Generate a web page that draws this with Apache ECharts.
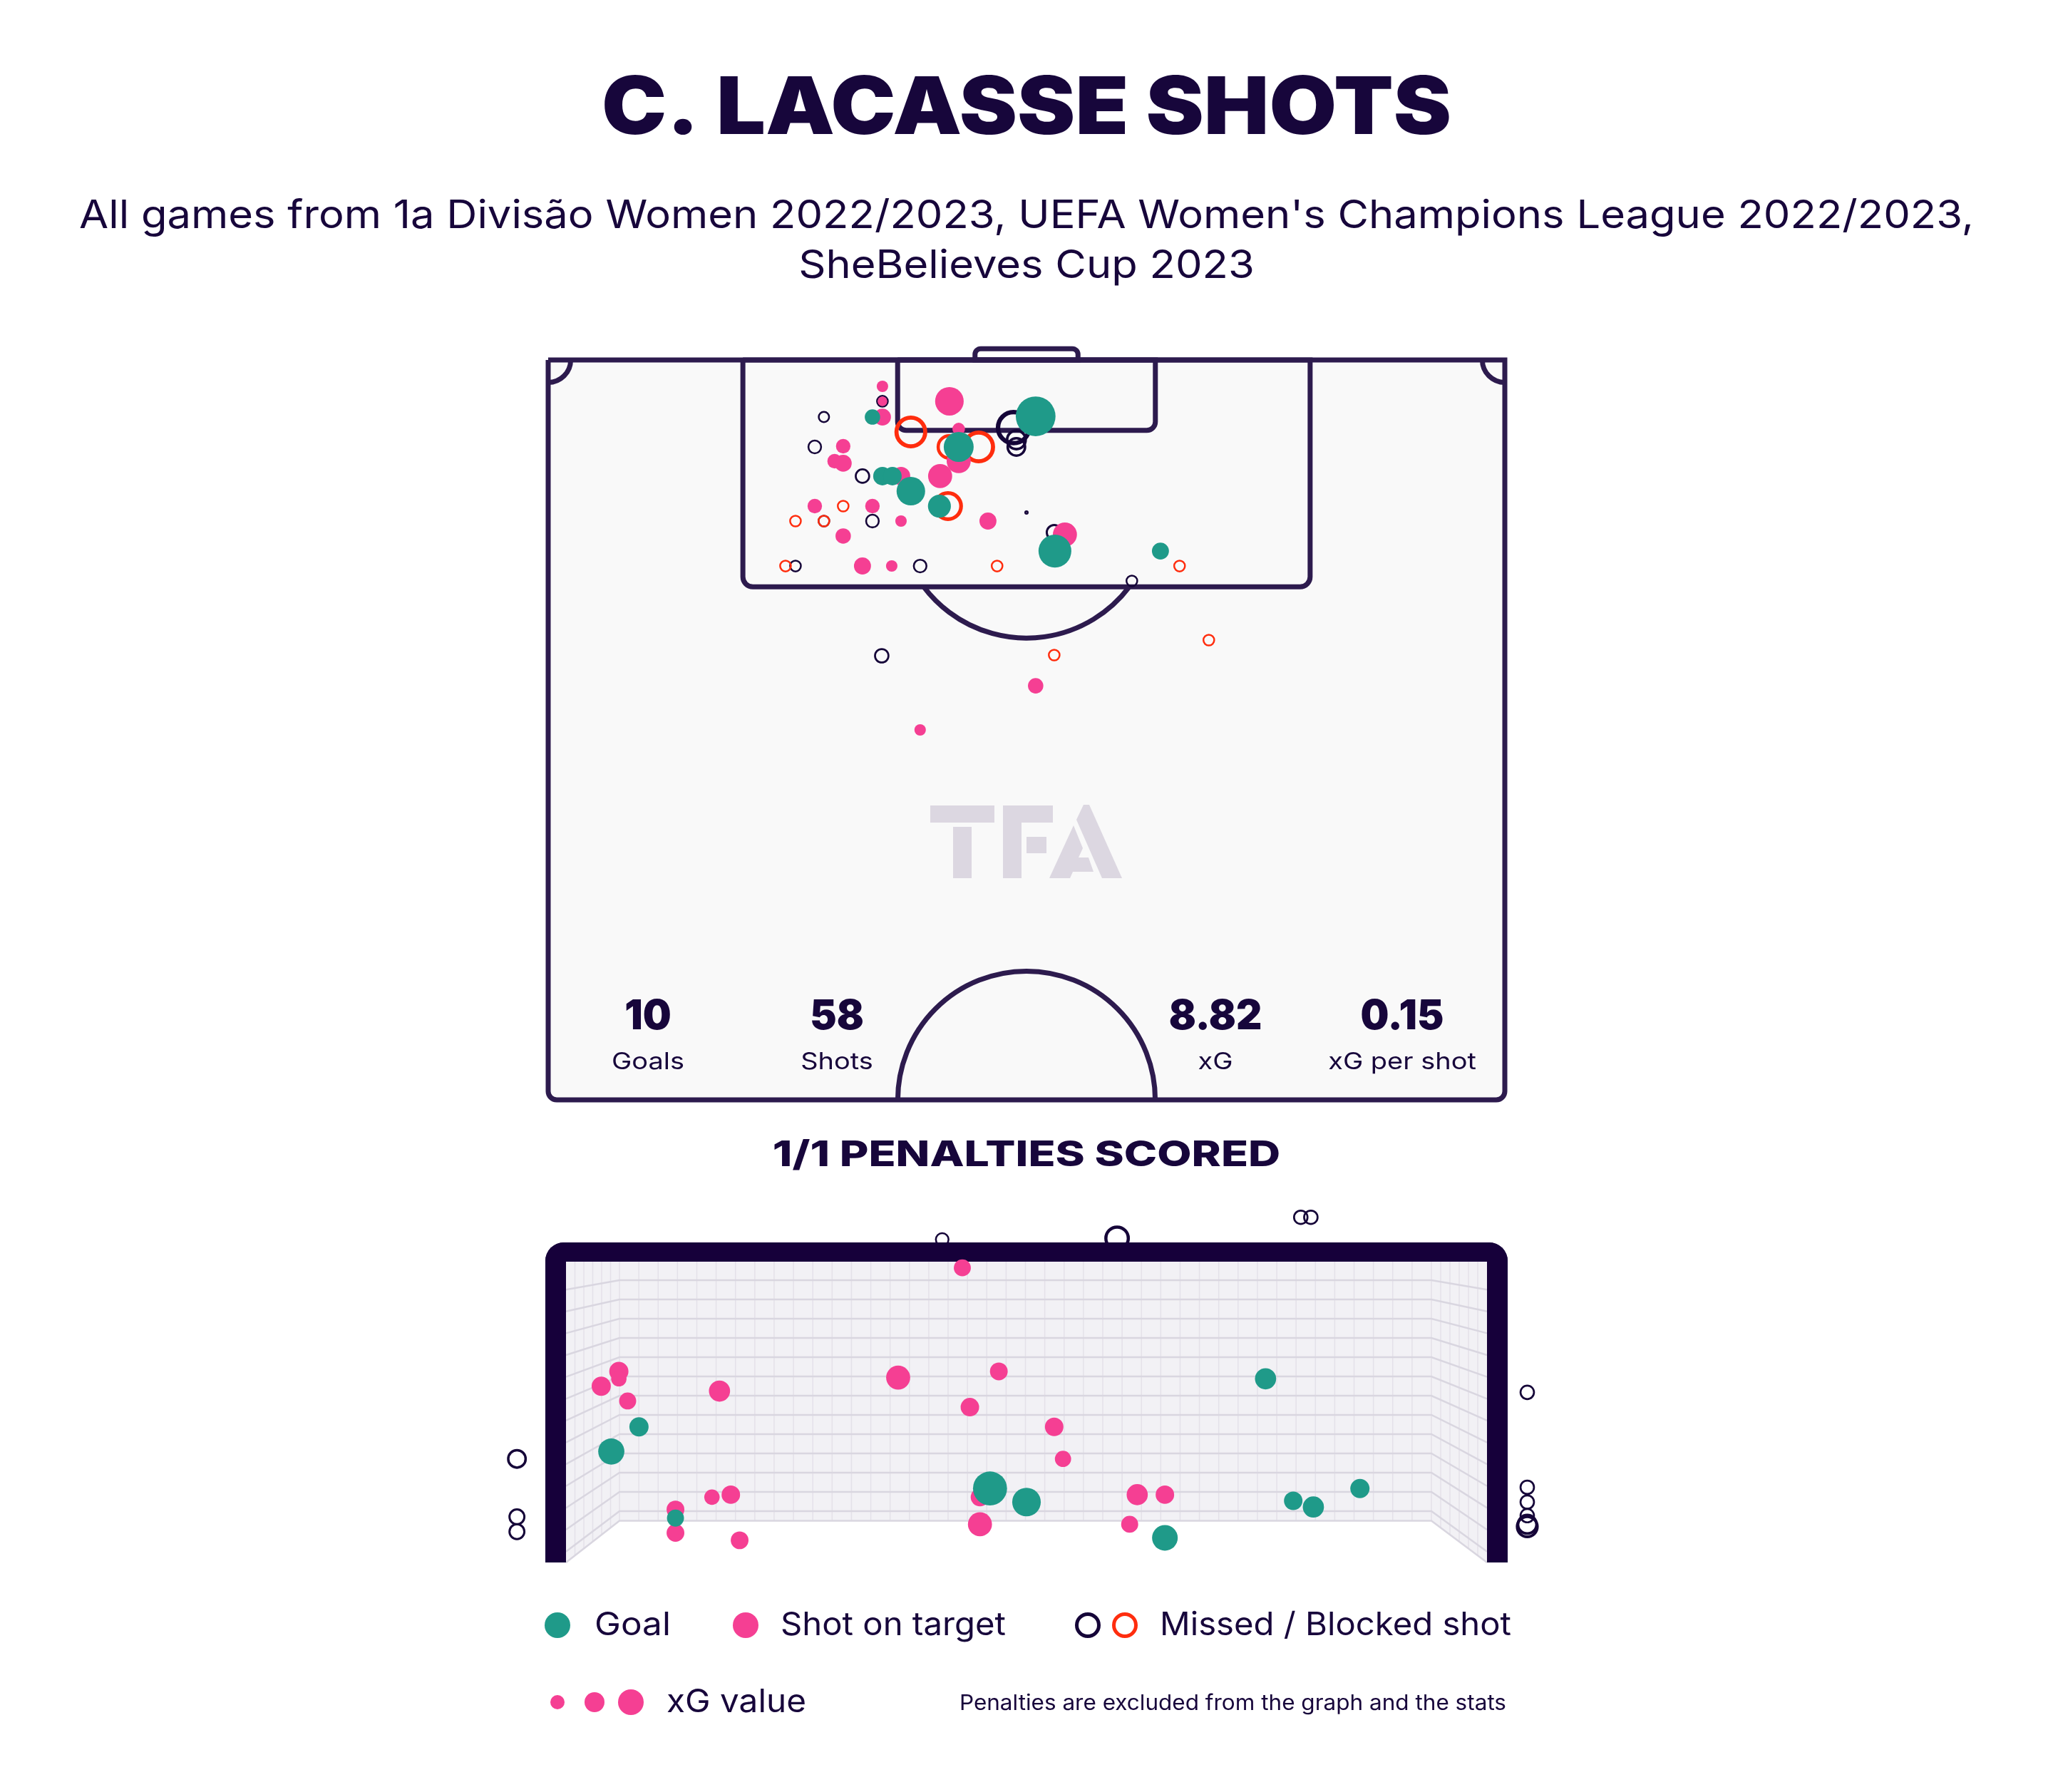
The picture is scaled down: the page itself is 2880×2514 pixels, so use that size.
<!DOCTYPE html>
<html>
<head>
<meta charset="utf-8">
<title>C. Lacasse shots</title>
<script src="https://cdn.jsdelivr.net/npm/echarts@6/dist/echarts.min.js"></script>
<style>
html, body { margin: 0; padding: 0; background: #ffffff; }
#chart { width: 2880px; height: 2514px; }
</style>
</head>
<body>
<div id="chart"></div>
<script>
// shots on the pitch: [metres across pitch, metres from goal line, xG]
var pitchGoals = [
    [23.05, 4.05, 0.09], [23.76, 8.24, 0.13], [24.47, 8.24, 0.13],
    [25.78, 9.31, 0.31], [29.18, 6.17, 0.34], [34.65, 4.00, 0.60],
    [27.81, 10.37, 0.20], [36.02, 13.56, 0.41], [43.52, 13.56, 0.11]
];
var pitchOnTarget = [
    [23.76, 1.87, 0.05], [23.76, 2.93, 0.035], [23.76, 4.05, 0.11],
    [28.52, 2.93, 0.31], [20.97, 6.12, 0.08], [20.36, 7.18, 0.08],
    [20.97, 7.33, 0.11], [25.08, 8.24, 0.13], [27.86, 8.24, 0.22],
    [29.18, 4.90, 0.06], [29.18, 7.18, 0.22], [18.95, 10.37, 0.08],
    [23.05, 10.37, 0.08], [25.08, 11.43, 0.05], [20.97, 12.49, 0.09],
    [22.34, 14.62, 0.11], [24.42, 14.62, 0.05], [31.26, 11.43, 0.11],
    [36.73, 12.39, 0.22], [34.65, 23.12, 0.09], [26.44, 26.25, 0.05]
];
var pitchMissed = [
    [23.76, 2.93, 0.06], [19.60, 4.05, 0.056], [18.95, 6.17, 0.08],
    [22.34, 8.24, 0.09], [33.08, 4.80, 0.48], [33.28, 5.67, 0.17],
    [33.28, 6.17, 0.15], [19.60, 11.43, 0.06], [23.05, 11.43, 0.08],
    [17.58, 14.62, 0.06], [26.44, 14.62, 0.08], [34.00, 10.82, 0.007],
    [35.97, 12.24, 0.11], [41.49, 15.68, 0.06], [23.71, 20.99, 0.09]
];
var pitchBlocked = [
    [25.78, 5.11, 0.41], [28.52, 6.17, 0.25], [30.60, 6.17, 0.41],
    [28.42, 10.37, 0.34], [20.97, 10.37, 0.06], [17.58, 11.43, 0.06],
    [19.60, 11.43, 0.06], [16.87, 14.62, 0.06], [44.88, 14.62, 0.06],
    [31.91, 14.62, 0.06], [46.96, 19.88, 0.06], [35.97, 20.94, 0.06]
];

// shots seen in the goal mouth: [metres from goal centre, height in metres, xG]
var goalGoals = [
    [1.90, 1.49, 0.17], [-3.08, 1.10, 0.14], [-3.30, 0.90, 0.26],
    [-2.79, 0.36, 0.11], [-0.29, 0.60, 0.44], [0.00, 0.49, 0.31],
    [1.10, 0.20, 0.25], [2.12, 0.50, 0.13], [2.28, 0.45, 0.17],
    [2.65, 0.60, 0.14]
];
var goalOnTarget = [
    [-0.51, 2.39, 0.11], [-3.24, 1.55, 0.14], [-3.24, 1.49, 0.09],
    [-3.38, 1.43, 0.14], [-3.17, 1.31, 0.11], [-2.44, 1.39, 0.17],
    [-1.02, 1.50, 0.22], [-0.22, 1.55, 0.12], [-0.45, 1.26, 0.13],
    [0.22, 1.10, 0.13], [0.29, 0.84, 0.10], [-2.50, 0.53, 0.09],
    [-2.35, 0.55, 0.13], [-2.79, 0.43, 0.12], [-2.79, 0.24, 0.12],
    [-2.28, 0.18, 0.12], [-0.37, 0.53, 0.13], [-0.37, 0.31, 0.22],
    [0.88, 0.55, 0.17], [1.10, 0.55, 0.13], [0.82, 0.31, 0.11]
];
var goalMissed = [
    [-0.67, 2.62, 0.08], [0.72, 2.63, 0.25], [2.18, 2.80, 0.09],
    [2.26, 2.80, 0.09], [3.98, 1.38, 0.09], [3.98, 0.61, 0.09],
    [3.98, 0.49, 0.09], [3.98, 0.38, 0.09], [3.98, 0.31, 0.17],
    [3.98, 0.29, 0.20], [-4.05, 0.84, 0.15], [-4.05, 0.37, 0.11],
    [-4.05, 0.25, 0.11]
];

var statValues = ['10', '58', '8.82', '0.15'];
var statLabels = ['Goals', 'Shots', 'xG', 'xG per shot'];
var statX = [909, 1174, 1705, 1967];

var ink = '#17063b';
var lineCol = '#2d1b4e';
var teal = '#1f9a89';
var pink = '#f53f93';
var navy = '#150538';
var red = '#ff2d0e';
var frameCol = '#16003a';
var font = 'Inter, "Noto Sans", sans-serif';

// radius in px from xG
function rad(xg) { return 36 * Math.sqrt(xg); }

function filled(arr) {
    return arr.map(function(d) { return { value: d, symbolSize: 2 * rad(d[2]) }; });
}
function rings(arr) {
    return arr.map(function(d) {
        var r = rad(d[2]);
        var bw = Math.max(2.5, r * 0.25);
        return { value: d, symbolSize: 2 * r - bw, itemStyle: { borderWidth: bw } };
    });
}

// 球场线
function renderPitch(params, api) {
    function pt(x, y) { return api.coord([x, y]); }
    var st = { stroke: lineCol, lineWidth: 7, fill: 'none' };
    function box(x0, y0, x1, y1, r, style) {
        var a = pt(x0, y0), b = pt(x1, y1);
        return { type: 'rect', shape: { x: a[0], y: a[1], width: b[0] - a[0], height: b[1] - a[1], r: r }, style: style || st };
    }
    var m = Math.abs(api.size([1, 0])[0]);
    function arc(cx, cy, r, a0, a1) {
        var c = pt(cx, cy);
        return { type: 'arc', shape: { cx: c[0], cy: c[1], r: r * m, startAngle: a0, endAngle: a1, clockwise: true }, style: st };
    }
    return {
        type: 'group',
        children: [
            box(0, 0, 68, 52.5, [0, 0, 12, 12], { fill: '#f9f9f9', stroke: 'none' }),
            box(30.34, -0.8, 37.66, 0, [8, 8, 0, 0]),
            box(13.84, 0, 54.16, 16.1, [0, 0, 14, 14]),
            box(24.84, 0, 43.16, 5.0, [0, 0, 12, 12]),
            arc(34, 10.6, 9.15, 0.645, Math.PI - 0.645),
            arc(34, 52.5, 9.15, Math.PI, 2 * Math.PI),
            arc(0, 0, 1.6, 0, Math.PI / 2),
            arc(68, 0, 1.6, Math.PI / 2, Math.PI),
            box(0, 0, 68, 52.5, [0, 0, 12, 12])
        ]
    };
}

// 球门和球网
var netEls = [];
var netLine = '#d9d6e0', netThin = '#e4e1e9';
var bx0 = 869, bx1 = 2008, bBot = 2133.6, fx0 = 794, fx1 = 2086, fBot = 2192, netTop = 1770;
var vpY = 1698, sc = 0.8816;
function frontY(y) { return vpY + (y - vpY) / sc; }
netEls.push({ type: 'polygon', z: 3, silent: true,
    shape: { points: [[fx0, netTop], [fx1, netTop], [fx1, fBot], [bx1, bBot], [bx0, bBot], [fx0, fBot]] },
    style: { fill: '#f2f1f5' } });
for (var i = 0; i <= 42; i++) {
    var vx = bx0 + i * (bx1 - bx0) / 42;
    netEls.push({ type: 'line', z: 3, silent: true, shape: { x1: vx, y1: netTop, x2: vx, y2: bBot },
        style: { stroke: netThin, lineWidth: 1.5 } });
}
for (var j = 1; j < 6; j++) {
    var lx = fx0 + j * (bx0 - fx0) / 6;
    var rx = fx1 - j * (fx1 - bx1) / 6;
    var fy = fBot - j * (fBot - bBot) / 6;
    netEls.push({ type: 'line', z: 3, silent: true, shape: { x1: lx, y1: netTop, x2: lx, y2: fy }, style: { stroke: netThin, lineWidth: 1.5 } });
    netEls.push({ type: 'line', z: 3, silent: true, shape: { x1: rx, y1: netTop, x2: rx, y2: fy }, style: { stroke: netThin, lineWidth: 1.5 } });
}
var hys = [];
for (var k = 0; k <= 12; k++) hys.push(1796 + k * 27);
hys.push(bBot);
hys.forEach(function(y) {
    var y2 = frontY(y);
    netEls.push({ type: 'polyline', z: 3, silent: true,
        shape: { points: [[fx0, y2], [bx0, y], [bx1, y], [fx1, y2]] },
        style: { stroke: netLine, lineWidth: 2.5, fill: 'none' } });
});
netEls.push({ type: 'rect', z: 6, silent: true, shape: { x: 765, y: 1743, width: 1350, height: 27, r: [26, 26, 0, 0] }, style: { fill: frameCol } });
netEls.push({ type: 'rect', z: 6, silent: true, shape: { x: 765, y: 1743, width: 29, height: 449, r: [26, 0, 0, 0] }, style: { fill: frameCol } });
netEls.push({ type: 'rect', z: 6, silent: true, shape: { x: 2086, y: 1743, width: 29, height: 449, r: [0, 26, 0, 0] }, style: { fill: frameCol } });

// TFA 水印
var wm = '#dcd7e1';
var markEls = [
    { type: 'rect', shape: { x: 1305, y: 1130, width: 90, height: 24 } },
    { type: 'rect', shape: { x: 1337, y: 1160, width: 26, height: 72 } },
    { type: 'rect', shape: { x: 1407, y: 1130, width: 26, height: 102 } },
    { type: 'rect', shape: { x: 1407, y: 1130, width: 70, height: 24 } },
    { type: 'rect', shape: { x: 1440, y: 1174, width: 28, height: 23 } },
    { type: 'polygon', shape: { points: [[1510, 1150], [1520, 1129], [1528, 1129], [1574, 1232], [1546, 1232]] } },
    { type: 'polygon', shape: { points: [[1506, 1158], [1519, 1190], [1513, 1203], [1527, 1203], [1534, 1223], [1505, 1223], [1501, 1232], [1472, 1232]] } }
];
markEls.forEach(function(e) { e.z = 1.5; e.silent = true; e.style = { fill: wm }; });

function txt(x, y, s, size, weight, align, sx) {
    return { type: 'text', z: 10, silent: true, x: x, y: y, scaleX: sx || 1,
        style: { text: s, fill: ink, font: (weight || 400) + ' ' + size + 'px ' + font,
            textAlign: align || 'center', textVerticalAlign: 'middle' } };
}

var textEls = [
    txt(1440, 154, 'C. LACASSE SHOTS', 112, 900, 'center', 1.09),
    txt(1440, 303, "All games from 1a Divisão Women 2022/2023, UEFA Women's Champions League 2022/2023,", 55, 400, 'center', 1.085),
    txt(1440, 373, 'SheBelieves Cup 2023', 55, 400, 'center', 1.085),
    txt(1440, 1621, '1/1 PENALTIES SCORED', 50, 800, 'center', 1.25)
];
for (var s = 0; s < statValues.length; s++) {
    textEls.push(txt(statX[s], 1427, statValues[s], 58, 900, 'center', 0.97));
    textEls.push(txt(statX[s], 1490, statLabels[s], 33, 400, 'center', 1.15));
}

// 图例
function dot(cx, cy, r, c) { return { type: 'circle', z: 10, silent: true, shape: { cx: cx, cy: cy, r: r }, style: { fill: c } }; }
function ring(cx, cy, r, c) { return { type: 'circle', z: 10, silent: true, shape: { cx: cx, cy: cy, r: r - 2.5 }, style: { fill: 'none', stroke: c, lineWidth: 5 } }; }
var legendEls = [
    dot(782, 2280, 18, teal), txt(834, 2280, 'Goal', 45, 400, 'left', 1.1),
    dot(1046, 2280, 18, pink), txt(1095, 2280, 'Shot on target', 45, 400, 'left', 1.05),
    ring(1526, 2280, 18, navy), ring(1578, 2280, 18, red), txt(1627, 2280, 'Missed / Blocked shot', 45, 400, 'left', 1.05),
    dot(782, 2388, 10, pink), dot(834, 2388, 14, pink), dot(885, 2388, 18, pink),
    txt(935, 2388, 'xG value', 45, 400, 'left', 1.06),
    txt(2113, 2390, 'Penalties are excluded from the graph and the stats', 30, 400, 'right', 1.05)
];

var myChart = echarts.init(document.getElementById('chart'));
var option = {
    backgroundColor: '#ffffff',
    animation: false,
    grid: [
        { left: 769, top: 505, width: 1342, height: 1038 },
        { left: 794, top: 1770, width: 1292, height: 422 }
    ],
    xAxis: [
        { gridIndex: 0, type: 'value', min: 0, max: 68, show: false },
        { gridIndex: 1, type: 'value', min: -3.66, max: 3.66, show: false }
    ],
    yAxis: [
        { gridIndex: 0, type: 'value', min: 0, max: 52.5, inverse: true, show: false },
        { gridIndex: 1, type: 'value', min: 0, max: 2.44, show: false }
    ],
    graphic: { elements: netEls.concat(markEls, textEls, legendEls) },
    series: [
        { type: 'custom', xAxisIndex: 0, yAxisIndex: 0, z: 1, silent: true, clip: false,
          data: [[0, 0]], renderItem: renderPitch },
        { name: 'Missed', type: 'scatter', xAxisIndex: 0, yAxisIndex: 0, z: 3, clip: false, symbol: 'circle',
          data: rings(pitchMissed), itemStyle: { color: 'rgba(0,0,0,0)', borderColor: navy, opacity: 1 } },
        { name: 'Blocked', type: 'scatter', xAxisIndex: 0, yAxisIndex: 0, z: 3, clip: false, symbol: 'circle',
          data: rings(pitchBlocked), itemStyle: { color: 'rgba(0,0,0,0)', borderColor: red, opacity: 1 } },
        { name: 'Shot on target', type: 'scatter', xAxisIndex: 0, yAxisIndex: 0, z: 4, clip: false, symbol: 'circle',
          data: filled(pitchOnTarget), itemStyle: { color: pink, opacity: 1 } },
        { name: 'Goal', type: 'scatter', xAxisIndex: 0, yAxisIndex: 0, z: 5, clip: false, symbol: 'circle',
          data: filled(pitchGoals), itemStyle: { color: teal, opacity: 1 } },
        { name: 'Missed', type: 'scatter', xAxisIndex: 1, yAxisIndex: 1, z: 2, clip: false, symbol: 'circle',
          data: rings(goalMissed), itemStyle: { color: 'rgba(0,0,0,0)', borderColor: navy, opacity: 1 } },
        { name: 'Shot on target', type: 'scatter', xAxisIndex: 1, yAxisIndex: 1, z: 7, clip: false, symbol: 'circle',
          data: filled(goalOnTarget), itemStyle: { color: pink, opacity: 1 } },
        { name: 'Goal', type: 'scatter', xAxisIndex: 1, yAxisIndex: 1, z: 8, clip: false, symbol: 'circle',
          data: filled(goalGoals), itemStyle: { color: teal, opacity: 1 } }
    ]
};
myChart.setOption(option);
</script>
</body>
</html>
